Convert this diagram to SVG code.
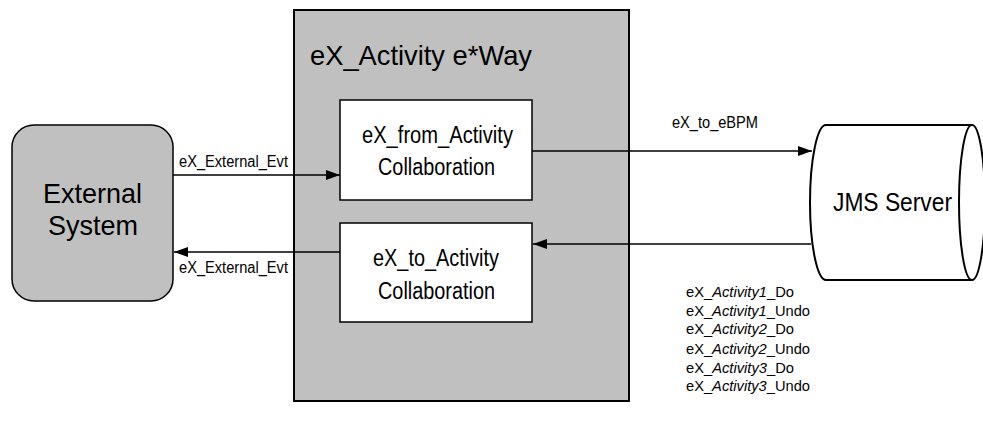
<svg xmlns="http://www.w3.org/2000/svg" width="983" height="426" viewBox="0 0 983 426">
<defs>
<style>
text{font-family:"Liberation Sans",Arial,sans-serif;fill:#000}
.lbl{font-size:16px}
.act{font-size:15px}
.box{font-size:23px}
.big{font-size:28px}
.ln{stroke:#000;stroke-width:1.5;fill:none}
</style>
<marker id="ah2" markerWidth="14" markerHeight="10" refX="14" refY="5" orient="auto" markerUnits="userSpaceOnUse"><path d="M0,0 L14,5 L0,10 Z" fill="#000"/></marker>
</defs>
<g id="eway">
<rect x="294" y="10" width="335" height="391" fill="#c0c0c0" stroke="#000" stroke-width="2"/>
<text class="big" x="310" y="65" font-size="27" textLength="222" lengthAdjust="spacingAndGlyphs">eX_Activity e*Way</text>
</g>
<g id="from-activity">
<rect x="340" y="100" width="192" height="100" fill="#fff" stroke="#000" stroke-width="1.5"/>
<text class="box" x="362" y="143" textLength="151" lengthAdjust="spacingAndGlyphs">eX_from_Activity</text>
<text class="box" x="378" y="175" textLength="117" lengthAdjust="spacingAndGlyphs">Collaboration</text>
</g>
<g id="to-activity">
<rect x="340" y="223" width="192" height="99" fill="#fff" stroke="#000" stroke-width="1.5"/>
<text class="box" x="373" y="266" textLength="126" lengthAdjust="spacingAndGlyphs">eX_to_Activity</text>
<text class="box" x="378" y="299" textLength="117" lengthAdjust="spacingAndGlyphs">Collaboration</text>
</g>
<g id="external">
<rect x="12" y="125" width="161" height="176" rx="22" fill="#c0c0c0" stroke="#000" stroke-width="1.5"/>
<text class="big" x="43" y="203" textLength="99" lengthAdjust="spacingAndGlyphs">External</text>
<text class="big" x="48" y="235" textLength="90" lengthAdjust="spacingAndGlyphs">System</text>
</g>
<g id="jms">
<path d="M826,125 L972,125 A13,77.5 0 0 1 972,280 L826,280 A16,77.5 0 0 1 826,125 Z" fill="#fff" stroke="#000" stroke-width="2"/>
<path d="M972,125 A13,77.5 0 0 0 972,280" fill="none" stroke="#000" stroke-width="2"/>
<text x="833" y="211" font-size="26" textLength="119" lengthAdjust="spacingAndGlyphs">JMS Server</text>
</g>
<g id="connectors">
<line class="ln" x1="173" y1="175" x2="340" y2="175" marker-end="url(#ah2)"/>
<line class="ln" x1="340" y1="252" x2="174" y2="252" marker-end="url(#ah2)"/>
<line class="ln" x1="532" y1="151" x2="812" y2="151" marker-end="url(#ah2)"/>
<line class="ln" x1="811" y1="244" x2="533" y2="244" marker-end="url(#ah2)"/>
<text class="lbl" x="179" y="167" textLength="109" lengthAdjust="spacingAndGlyphs">eX_External_Evt</text>
<text class="lbl" x="179" y="273" textLength="109" lengthAdjust="spacingAndGlyphs">eX_External_Evt</text>
<text class="lbl" x="672" y="128" textLength="86" lengthAdjust="spacingAndGlyphs">eX_to_eBPM</text>
<text class="act" x="686" y="297" textLength="108" lengthAdjust="spacingAndGlyphs">eX_<tspan font-style="italic">Activity1</tspan>_Do</text>
<text class="act" x="686" y="316" textLength="124" lengthAdjust="spacingAndGlyphs">eX_<tspan font-style="italic">Activity1</tspan>_Undo</text>
<text class="act" x="686" y="334" textLength="108" lengthAdjust="spacingAndGlyphs">eX_<tspan font-style="italic">Activity2</tspan>_Do</text>
<text class="act" x="686" y="354" textLength="124" lengthAdjust="spacingAndGlyphs">eX_<tspan font-style="italic">Activity2</tspan>_Undo</text>
<text class="act" x="686" y="373" textLength="108" lengthAdjust="spacingAndGlyphs">eX_<tspan font-style="italic">Activity3</tspan>_Do</text>
<text class="act" x="686" y="391" textLength="124" lengthAdjust="spacingAndGlyphs">eX_<tspan font-style="italic">Activity3</tspan>_Undo</text>
</g>
</svg>
